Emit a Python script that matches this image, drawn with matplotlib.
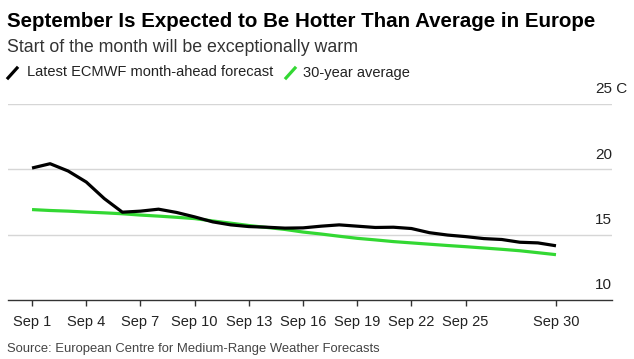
import matplotlib
matplotlib.use("Agg")
import matplotlib.pyplot as plt
from matplotlib.lines import Line2D

plt.rcParams['font.family'] = ['Liberation Sans', 'DejaVu Sans']

# daily values, Sep 1 .. Sep 30 (deg C)
days = list(range(1, 31))
forecast = [20.1, 20.43, 19.87, 19.03, 17.76, 16.72, 16.8, 16.95, 16.7, 16.36,
            15.98, 15.75, 15.62, 15.57, 15.5, 15.52, 15.65, 15.75, 15.65, 15.55,
            15.57, 15.47, 15.15, 14.97, 14.85, 14.7, 14.63, 14.42, 14.37, 14.15]
average = [16.92, 16.85, 16.8, 16.73, 16.67, 16.6, 16.5, 16.42, 16.33, 16.23,
           16.05, 15.88, 15.7, 15.55, 15.4, 15.2, 15.05, 14.88, 14.72, 14.6,
           14.47, 14.37, 14.27, 14.17, 14.08, 13.98, 13.88, 13.77, 13.62, 13.47]
tick_days = [1, 4, 7, 10, 13, 16, 19, 22, 25, 30]
y_ticks = [10, 15, 20, 25]
unit = 'C'

green = '#33d833'
txt = '#222222'

fig = plt.figure(figsize=(6.34, 3.59), dpi=100)
ax = fig.add_axes([8 / 634, 59 / 359, 604 / 634, 196 / 359])

ax.plot(days, average, color=green, lw=2.3, solid_capstyle='butt', zorder=3)
ax.plot(days, forecast, color='black', lw=2.3, solid_capstyle='butt', zorder=4)

ax.set_xlim(1 - 1.33, 33.1)
ax.set_ylim(10, 25)

for v in y_ticks[1:]:
    ax.axhline(v, color='#d6d6d6', lw=1, zorder=1)
for v in y_ticks:
    ax.annotate(str(v), xy=(1, v), xycoords=('axes fraction', 'data'),
                xytext=(0, 5.5), textcoords='offset points',
                ha='right', va='bottom', fontsize=11, color=txt)
# unit sits after the top label, past the plot edge
ax.annotate(' ' + unit, xy=(1, y_ticks[-1]), xycoords=('axes fraction', 'data'),
            xytext=(0, 5.5), textcoords='offset points',
            ha='left', va='bottom', fontsize=11, color=txt, annotation_clip=False)

for s in ['top', 'right', 'left']:
    ax.spines[s].set_visible(False)
ax.spines['bottom'].set_color('#333333')
ax.spines['bottom'].set_linewidth(1)
ax.set_yticks([])
ax.set_xticks(tick_days)
ax.set_xticklabels([f'Sep {d}' for d in tick_days])
ax.tick_params(axis='x', length=4, width=1, color='#333333', pad=7,
               labelsize=10.5, labelcolor=txt)

fig.text(7 / 634, 1 - 21.5 / 359, 'September Is Expected to Be Hotter Than Average in Europe',
         fontsize=14.8, fontweight='bold', color='black', va='center')
fig.text(7 / 634, 1 - 48 / 359, 'Start of the month will be exceptionally warm',
         fontsize=12.8, color='#333333', va='center')

# legend
def slash(x0, color):
    fig.add_artist(Line2D([x0 / 634, (x0 + 9) / 634],
                          [1 - 78 / 359, 1 - 68 / 359],
                          color=color, lw=2.3, transform=fig.transFigure))

slash(8, 'black')
fig.text(27 / 634, 1 - 72.5 / 359, 'Latest ECMWF month-ahead forecast',
         fontsize=10.5, color=txt, va='center')
slash(286, green)
fig.text(303 / 634, 1 - 72.5 / 359, '30-year average',
         fontsize=10.5, color=txt, va='center')

fig.text(7 / 634, 1 - 349 / 359, 'Source: European Centre for Medium-Range Weather Forecasts',
         fontsize=9.35, color='#444444', va='center')

fig.savefig('out.png', dpi=100)
